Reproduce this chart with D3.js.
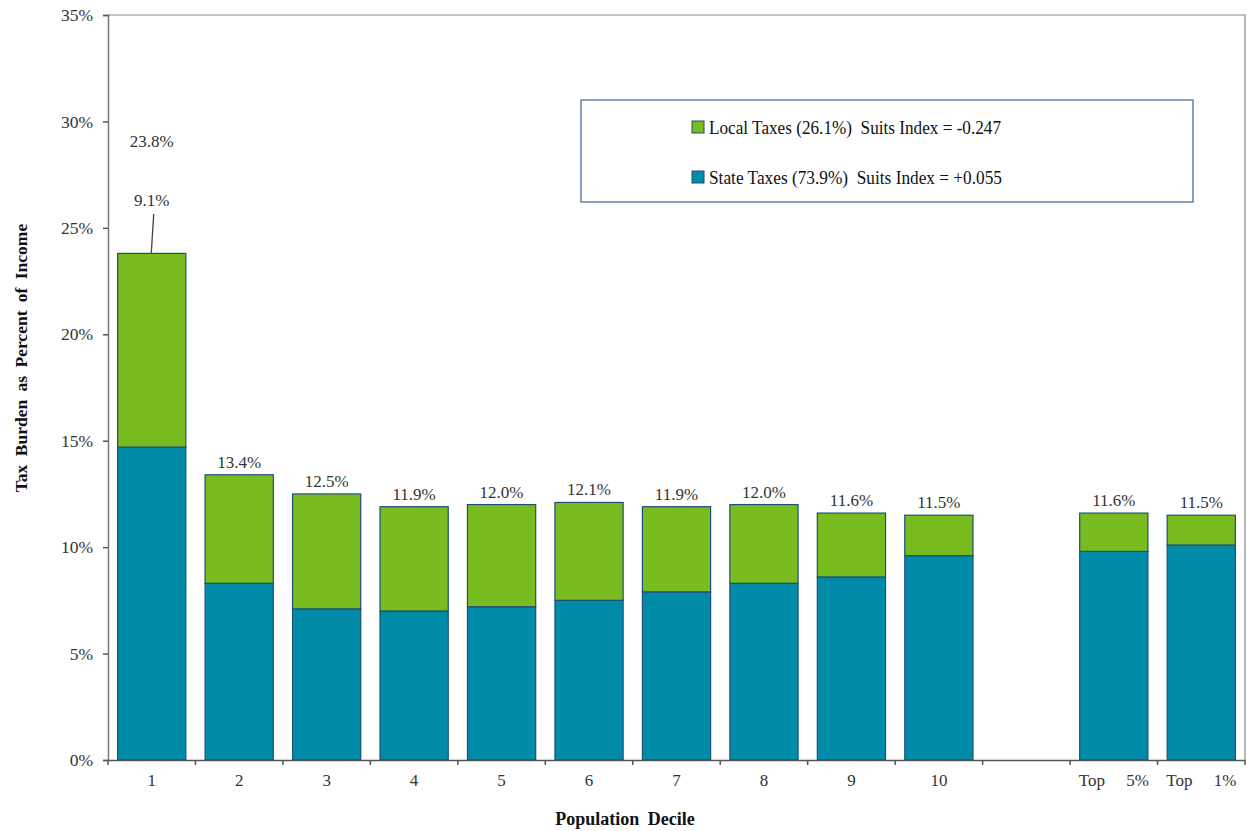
<!DOCTYPE html>
<html>
<head>
<meta charset="utf-8">
<script src="https://cdn.jsdelivr.net/npm/d3@7"></script>
<style>
  body { margin: 0; background: #fff; }
  svg text { font-family: 'Liberation Serif', 'Times New Roman', serif; }
</style>
</head>
<body>
<svg id="chart" width="1247" height="831"></svg>
<script>
const categories = ["1","2","3","4","5","6","7","8","9","10","","Top 5%","Top 1%"];
const tickLabels = ["1","2","3","4","5","6","7","8","9","10","","Top     5%","Top     1%"];
const stateTaxes = [14.7, 8.3, 7.1, 7.0, 7.2, 7.5, 7.9, 8.3, 8.6, 9.6, null, 9.8, 10.1];
const localTaxes = [9.1, 5.1, 5.4, 4.9, 4.8, 4.6, 4.0, 3.7, 3.0, 1.9, null, 1.8, 1.4];
const totals = [23.8, 13.4, 12.5, 11.9, 12.0, 12.1, 11.9, 12.0, 11.6, 11.5, null, 11.6, 11.5];
const yTicks = [0, 5, 10, 15, 20, 25, 30, 35];
const legendItems = [
  {label: "Local Taxes (26.1%)  Suits Index = -0.247", key: "local"},
  {label: "State Taxes (73.9%)  Suits Index = +0.055", key: "state"}
];
const colors = {state: "#008CA8", local: "#78BC20"};
const FONT = "'Liberation Serif', 'Times New Roman', serif";

const svg = d3.select("#chart");
const m = {left: 108, right: 1245, top: 15, bottom: 760};

const x = d3.scaleBand().domain(categories.map((c, i) => i)).range([m.left, m.right]).paddingInner(0.22).paddingOuter(0.11);
const y = d3.scaleLinear().domain([0, 35]).range([m.bottom, m.top]);

// plot frame (top + right)
svg.append("path")
  .attr("d", `M${m.left},${m.top}H${m.right}V${m.bottom}`)
  .attr("fill", "none").attr("stroke", "#888").attr("stroke-width", 1.2);

// bars
const data = categories.map((c, i) => ({i, state: stateTaxes[i], local: localTaxes[i], total: totals[i]})).filter(d => d.state != null);
const g = svg.append("g");
data.forEach(d => {
  g.append("rect")
    .attr("x", x(d.i)).attr("width", x.bandwidth())
    .attr("y", y(d.state)).attr("height", y(0) - y(d.state))
    .attr("fill", colors.state).attr("stroke", "#1F4E79").attr("stroke-width", 1.2);
  g.append("rect")
    .attr("x", x(d.i)).attr("width", x.bandwidth())
    .attr("y", y(d.state + d.local)).attr("height", y(d.state) - y(d.state + d.local))
    .attr("fill", colors.local).attr("stroke", "#1F4E79").attr("stroke-width", 1.2);
});

// total labels
data.forEach(d => {
  if (d.i === 0) return;
  svg.append("text")
    .attr("x", x(d.i) + x.bandwidth() / 2)
    .attr("y", y(d.state + d.local) - 7)
    .attr("text-anchor", "middle")
    .attr("font-size", 17).attr("fill", "#333").style("font-family", FONT)
    .text(d3.format(".1f")(d.total) + "%");
});
// first bar: total and local callout
const d0 = data[0];
const cx0 = x(0) + x.bandwidth() / 2;
svg.append("text").attr("x", cx0).attr("y", y(29.1) + 6)
  .attr("text-anchor", "middle").attr("font-size", 17).attr("fill", "#333").style("font-family", FONT)
  .text(d3.format(".1f")(d0.total) + "%");
svg.append("text").attr("x", cx0).attr("y", y(26.3) + 6)
  .attr("text-anchor", "middle").attr("font-size", 17).attr("fill", "#333").style("font-family", FONT)
  .text(d3.format(".1f")(d0.local) + "%");
svg.append("line")
  .attr("x1", cx0 + 2).attr("y1", y(25.65))
  .attr("x2", cx0 - 0.5).attr("y2", y(d0.total))
  .attr("stroke", "#444").attr("stroke-width", 1.3);

// y axis
const yAxis = d3.axisLeft(y).tickValues(yTicks).tickSize(5).tickPadding(10).tickFormat(d => d + "%");
const ya = svg.append("g").attr("transform", `translate(${m.left},0)`).call(yAxis);
ya.attr("font-family", null);
ya.select(".domain").attr("stroke", "#777").attr("stroke-width", 1.5);
ya.selectAll(".tick line").attr("stroke", "#555").attr("stroke-width", 1.5);
ya.selectAll("text").style("font-family", FONT).attr("font-size", 17.5).attr("fill", "#333");

// x axis
const xAxis = d3.axisBottom(x).tickSize(0).tickPadding(14).tickFormat(i => tickLabels[i]);
const xa = svg.append("g").attr("transform", `translate(0,${m.bottom})`).call(xAxis);
xa.attr("font-family", null);
xa.select(".domain").attr("stroke", "#555").attr("stroke-width", 1.5);
xa.selectAll("text").style("font-family", FONT).attr("font-size", 17).attr("fill", "#333")
  .style("white-space", "pre");
// boundary tick marks
const bounds = d3.range(categories.length + 1).map(k => m.left + k * (m.right - m.left) / categories.length);
xa.selectAll(".bt").data(bounds).enter().append("line")
  .attr("x1", d => d).attr("x2", d => d).attr("y1", 0).attr("y2", 5)
  .attr("stroke", "#555").attr("stroke-width", 1.5);

// axis titles
svg.append("text")
  .attr("transform", `translate(27,358) rotate(-90)`)
  .attr("text-anchor", "middle").attr("font-size", 17.5).attr("font-weight", "bold").attr("fill", "#111")
  .style("font-family", FONT).style("word-spacing", "4px")
  .text("Tax Burden as Percent of Income");
svg.append("text")
  .attr("x", 625).attr("y", 825)
  .attr("text-anchor", "middle").attr("font-size", 18).attr("font-weight", "bold").attr("fill", "#111")
  .style("font-family", FONT).style("word-spacing", "4px")
  .text("Population Decile");

// legend
const lg = svg.append("g");
lg.append("rect").attr("x", 581).attr("y", 100).attr("width", 612).attr("height", 102)
  .attr("fill", "#fff").attr("stroke", "#41719C").attr("stroke-width", 1.3);
legendItems.forEach((it, k) => {
  const cy = 127 + k * 50;
  lg.append("rect").attr("x", 692).attr("y", cy - 6).attr("width", 12).attr("height", 12)
    .attr("fill", colors[it.key]).attr("stroke", "#1F4E79").attr("stroke-width", 1);
  lg.append("text").attr("x", 709).attr("y", cy + 6.5).attr("font-size", 19).attr("fill", "#111")
    .attr("textLength", k === 0 ? 292 : 293).attr("lengthAdjust", "spacingAndGlyphs")
    .style("font-family", FONT).style("white-space", "pre").text(it.label);
});
</script>
</body>
</html>
